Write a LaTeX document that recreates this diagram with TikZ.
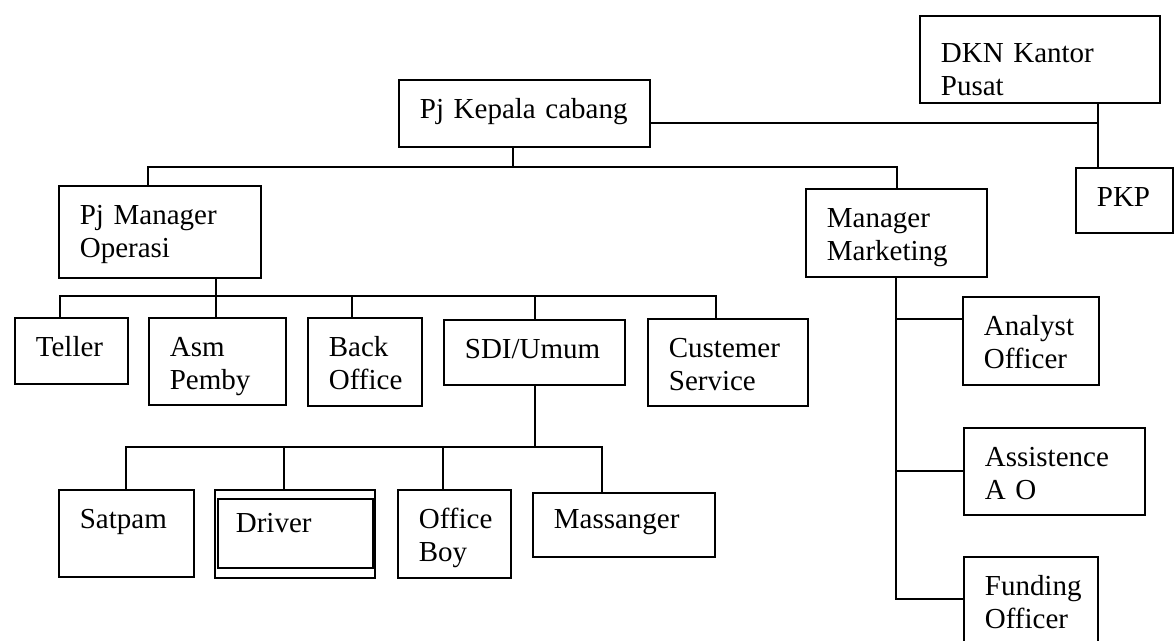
\documentclass[tikz,border=0pt]{standalone}
\usepackage{fontspec}
\setmainfont{Liberation Serif}

\begin{document}
\begin{tikzpicture}[x=0.02cm, y=-0.02cm, line width=1pt,
		unit/.style={draw, rectangle, anchor=north west, align=left, inner xsep=0.42cm, inner ysep=0pt,
			text height=0.78cm, font={\fontsize{16.5}{18.5}\selectfont\lefthyphenmin=62}}]
			\useasboundingbox (0,0) rectangle (1175,640);
			\node[unit, text width=4.18cm, text depth=0.56cm] (kepala)  at (398,79)   {Pj Kepala cabang};
			\node[unit, text width=3.96cm, text height=0.94cm, text depth=0.80cm] (dkn) at (919,15) {DKN Kantor\\Pusat};
			\node[unit, text width=1.10cm, text depth=0.52cm] (pkp)     at (1075,167) {PKP};
			\node[unit, text width=3.20cm, text depth=1.06cm] (opr)     at (58,185)   {Pj Manager\\Operasi};
			\node[unit, text width=2.78cm, text depth=0.98cm] (mkt)     at (805,188)  {Manager\\Marketing};
			\node[unit, text width=1.42cm, text depth=0.54cm] (teller)  at (14,317)   {Teller};
			\node[unit, text width=1.90cm, text depth=0.96cm] (asm)     at (148,317)  {Asm\\Pemby};
			\node[unit, text width=1.44cm, text depth=0.98cm] (back)    at (307,317)  {Back\\Office};
			\node[unit, text width=2.78cm, text depth=0.52cm] (sdi)     at (443,319)  {SDI/Umum};
			\node[unit, text width=2.36cm, text depth=0.96cm] (cs)      at (647,318)  {Custemer\\Service};
			\node[unit, text width=1.86cm, text depth=0.96cm] (satpam)  at (58,489)   {Satpam};
			\node[unit, text width=2.36cm, text height=0.86cm, text depth=0.90cm] (driver) at (214,489) {Driver};
			\node[unit, text width=1.42cm, text depth=0.98cm] (boy)     at (397,489)  {Office\\Boy};
			\node[unit, text width=2.80cm, text height=0.72cm, text depth=0.56cm] (msg) at (532,492) {Massanger};
			\node[unit, text width=1.88cm, text depth=0.98cm] (analyst) at (962,296)  {Analyst\\Officer};
			\node[unit, text width=2.78cm, text depth=0.96cm] (assist)  at (963,427)  {Assistence\\A O};
			\node[unit, text width=1.84cm, text depth=0.98cm] (funding) at (963,556)  {Funding\\Officer};
			\draw ([shift={(4,10)}]driver.north west) rectangle ([shift={(-3,-11)}]driver.south east);

			\coordinate (k0) at (513,167);
			\coordinate (k1) at (148,167);
			\coordinate (k2) at (897,167);
			\coordinate (k3) at (1098,123);
			\draw (k0 |- kepala.south) -- (k0);
			\draw (k1 |- opr.north) -- (k1) -- (k2) -- (k2 |- mkt.north);
			\draw (kepala.east |- k3) -- (k3);
			\draw (k3 |- dkn.south) -- (k3 |- pkp.north);

			\coordinate (o1) at (60,296);
			\coordinate (o2) at (216,296);
			\coordinate (o5) at (716,296);
			\draw (o2 |- opr.south) -- (o2 |- asm.north);
			\draw (o1 |- teller.north) -- (o1) -- (o5) -- (o5 |- cs.north);
			\foreach \n/\x in {back/352, sdi/535}
				\draw (\x,296) coordinate (o) -- (o |- \n.north);

			\coordinate (s0) at (535,447);
			\coordinate (s1) at (126,447);
			\coordinate (s4) at (602,447);
			\draw (s0 |- sdi.south) -- (s0);
			\draw (s1 |- satpam.north) -- (s1) -- (s4) -- (s4 |- msg.north);
			\foreach \n/\x in {driver/284, boy/443}
				\draw (\x,447) coordinate (s) -- (s |- \n.north);

			\coordinate (m0) at (896,599);
			\coordinate (m1) at (896,319);
			\coordinate (m2) at (896,471);
			\draw (m0 |- mkt.south) -- (m0) -- (m0 -| funding.west);
			\draw (m1) -- (m1 -| analyst.west);
			\draw (m2) -- (m2 -| assist.west);
		\end{tikzpicture}
\end{document}
